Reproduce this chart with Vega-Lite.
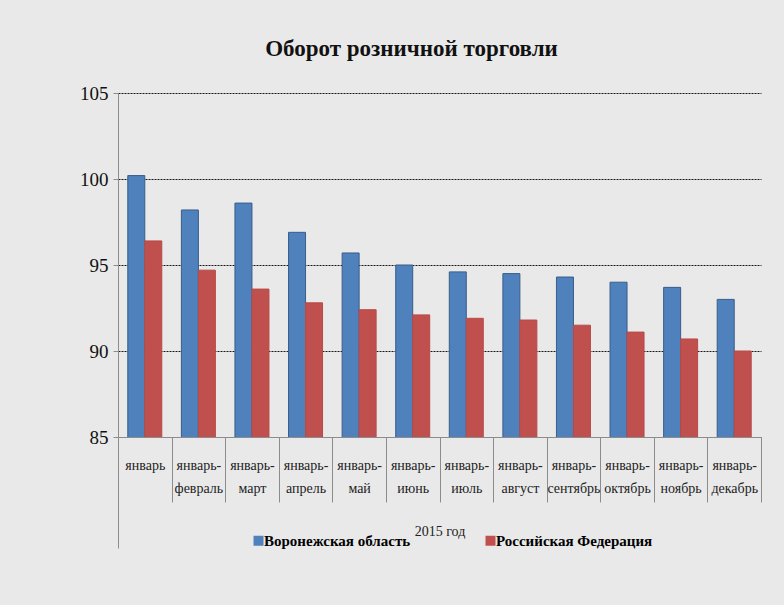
{
  "$schema": "https://vega.github.io/schema/vega-lite/v6.json",
  "width": 643,
  "height": 344,
  "autosize": {"type": "none"},
  "padding": {"left": 118, "top": 93, "right": 23, "bottom": 168},
  "background": "#e9e9e9",
  "title": {
    "text": "Оборот розничной торговли",
    "font": "Liberation Serif",
    "fontSize": 23,
    "fontWeight": "bold",
    "color": "#111111",
    "anchor": "middle",
    "dx": -28,
    "offset": 23
  },
  "data": {
    "values": [
      {"period": "январь", "region": "Воронежская область", "value": 100.2},
      {"period": "январь", "region": "Российская Федерация", "value": 96.4},
      {"period": "январь-февраль", "region": "Воронежская область", "value": 98.2},
      {"period": "январь-февраль", "region": "Российская Федерация", "value": 94.7},
      {"period": "январь-март", "region": "Воронежская область", "value": 98.6},
      {"period": "январь-март", "region": "Российская Федерация", "value": 93.6},
      {"period": "январь-апрель", "region": "Воронежская область", "value": 96.9},
      {"period": "январь-апрель", "region": "Российская Федерация", "value": 92.8},
      {"period": "январь-май", "region": "Воронежская область", "value": 95.7},
      {"period": "январь-май", "region": "Российская Федерация", "value": 92.4},
      {"period": "январь-июнь", "region": "Воронежская область", "value": 95.0},
      {"period": "январь-июнь", "region": "Российская Федерация", "value": 92.1},
      {"period": "январь-июль", "region": "Воронежская область", "value": 94.6},
      {"period": "январь-июль", "region": "Российская Федерация", "value": 91.9},
      {"period": "январь-август", "region": "Воронежская область", "value": 94.5},
      {"period": "январь-август", "region": "Российская Федерация", "value": 91.8},
      {"period": "январь-сентябрь", "region": "Воронежская область", "value": 94.3},
      {"period": "январь-сентябрь", "region": "Российская Федерация", "value": 91.5},
      {"period": "январь-октябрь", "region": "Воронежская область", "value": 94.0},
      {"period": "январь-октябрь", "region": "Российская Федерация", "value": 91.1},
      {"period": "январь-ноябрь", "region": "Воронежская область", "value": 93.7},
      {"period": "январь-ноябрь", "region": "Российская Федерация", "value": 90.7},
      {"period": "январь-декабрь", "region": "Воронежская область", "value": 93.0},
      {"period": "январь-декабрь", "region": "Российская Федерация", "value": 90.0}
    ]
  },
  "encoding": {
    "xOffset": {
      "field": "region",
      "type": "nominal",
      "sort": ["Воронежская область", "Российская Федерация"],
      "scale": {"paddingInner": 0, "paddingOuter": 0.576}
    },
    "y": {
      "field": "value",
      "type": "quantitative",
      "scale": {"domain": [85, 105], "zero": false, "nice": false},
      "axis": {
        "title": null,
        "values": [85, 90, 95, 100, 105],
        "labelFont": "Liberation Serif",
        "labelFontSize": 19,
        "labelColor": "#111111",
        "labelPadding": 5,
        "tickSize": 5,
        "tickColor": "#8c8c8c",
        "domainColor": "#8c8c8c",
        "grid": true,
        "gridColor": "#000000",
        "gridDash": [2, 1],
        "gridOpacity": 0.9
      }
    }
  },
  "layer": [
    {
      "mark": {"type": "bar", "strokeWidth": 1, "clip": true},
      "encoding": {
        "x": {
          "field": "period",
          "type": "nominal",
          "sort": null,
          "scale": {"paddingInner": 0, "paddingOuter": 0},
          "axis": {
            "title": "2015 год",
            "titleFont": "Liberation Serif",
            "titleFontSize": 14,
            "titleFontWeight": "normal",
            "titleColor": "#222222",
            "titlePadding": 22,
            "labelAngle": 0,
            "labelFont": "Liberation Serif",
            "labelFontSize": 14,
            "labelColor": "#222222",
            "labelBaseline": "top",
            "labelLineHeight": 23,
            "labelPadding": -44,
            "labelExpr": "datum.value ? split(replace(datum.value, '-', '-|'), '|') : ''",
            "tickBand": "extent",
            "tickSize": 65,
            "tickColor": "#8c8c8c",
            "domainColor": "#8c8c8c",
            "zindex": 1
          }
        },
        "color": {
          "field": "region",
          "type": "nominal",
          "sort": ["Воронежская область", "Российская Федерация"],
          "scale": {"range": ["#4f81bd", "#c0504d"]},
          "legend": {
            "title": null,
            "orient": "none",
            "direction": "horizontal",
            "legendX": 133,
            "legendY": 440,
            "symbolType": "square",
            "symbolSize": 100,
            "symbolOpacity": 1,
            "symbolStrokeWidth": 0,
            "labelFont": "Liberation Serif",
            "labelFontSize": 15,
            "labelFontWeight": "bold",
            "labelColor": "#000000",
            "labelOffset": -2,
            "columnPadding": 72,
            "labelLimit": 300
          }
        },
        "stroke": {
          "field": "region",
          "type": "nominal",
          "sort": ["Воронежская область", "Российская Федерация"],
          "scale": {"range": ["#385d8a", "#b94a47"]},
          "legend": null
        }
      }
    },
    {
      "mark": {"type": "bar", "opacity": 0},
      "encoding": {
        "x": {
          "field": "period",
          "type": "nominal",
          "sort": null,
          "axis": {
            "orient": "top",
            "offset": -344,
            "values": ["январь"],
            "bandPosition": 0,
            "tickExtra": false,
            "labels": false,
            "domain": false,
            "title": null,
            "tickSize": -111,
            "tickColor": "#8c8c8c"
          }
        }
      }
    }
  ],
  "resolve": {"axis": {"x": "independent"}},
  "config": {"view": {"stroke": null}}
}
